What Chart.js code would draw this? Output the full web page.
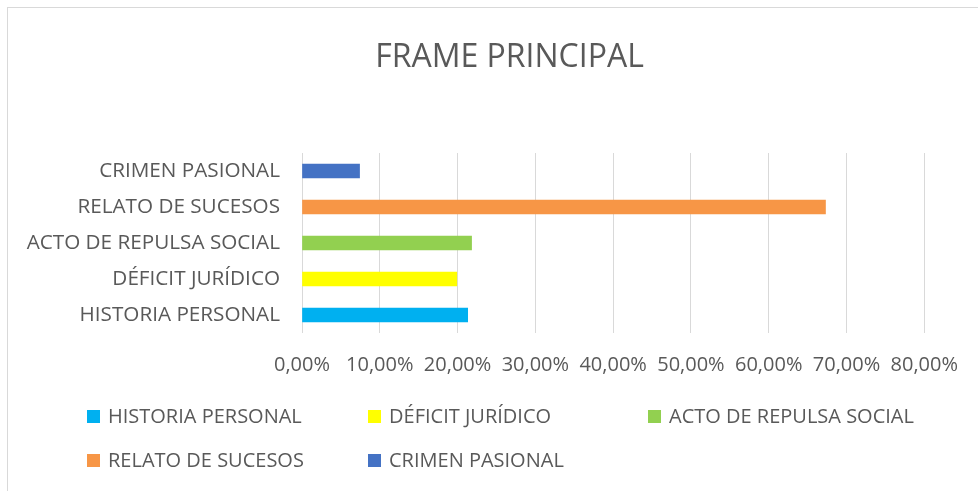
<!DOCTYPE html>
<html><head><meta charset="utf-8">
<script src="https://cdn.jsdelivr.net/npm/chart.js@4.4.1/dist/chart.umd.min.js"></script>
<style>
html,body{margin:0;padding:0;background:#fff;}
#wrap{position:relative;width:978px;height:491px;overflow:hidden;font-family:"Open Sans",sans-serif;color:#595959;}
#frame{position:absolute;left:7px;top:7px;width:1000px;height:1000px;border:1px solid #d9d9d9;box-sizing:border-box;}
#title{position:absolute;left:0;width:1019px;top:37px;text-align:center;font-size:32px;line-height:36px;}
canvas{position:absolute;left:0;top:0;}
#legend{position:absolute;left:87px;top:404px;display:grid;grid-template-columns:281px 280px 300px;row-gap:20px;font-size:20px;line-height:24px;}
.item{display:flex;align-items:center;white-space:nowrap;}
.box{width:13px;height:13px;margin-right:8px;flex:none;}
</style>
</head><body>
<div id="wrap">
<div id="frame"></div>
<canvas id="c" width="978" height="491"></canvas>
<div id="title"></div>
<div id="legend"></div>
</div>
<script>
const chartTitle = 'FRAME PRINCIPAL';
const categories = ['HISTORIA PERSONAL','DÉFICIT JURÍDICO','ACTO DE REPULSA SOCIAL','RELATO DE SUCESOS','CRIMEN PASIONAL'];
const values = [0.213, 0.199, 0.218, 0.673, 0.074];
const colors = ['#00B0F0','#FFFF00','#92D050','#F79646','#4472C4'];
const xTickLabels = ['0,00%','10,00%','20,00%','30,00%','40,00%','50,00%','60,00%','70,00%','80,00%'];

document.getElementById('title').textContent = chartTitle;

const datasets = categories.map((c, i) => ({
  label: c,
  data: categories.map((_, j) => j === i ? values[i] : null),
  backgroundColor: colors[i],
  barThickness: 14
}));

const FONT = '"Open Sans", sans-serif';

new Chart(document.getElementById('c'), {
  type: 'bar',
  data: { labels: categories, datasets },
  options: {
    indexAxis: 'y',
    responsive: false,
    animation: false,
    layout: { padding: { left: 0, right: 46, top: 153, bottom: 94 } },
    plugins: { legend: { display: false }, title: { display: false }, tooltip: { enabled: false } },
    scales: {
      x: {
        stacked: true,
        min: 0, max: 0.8,
        ticks: { stepSize: 0.1, callback: (v, i) => xTickLabels[i], color: '#595959',
                 font: { family: FONT, size: 20 }, padding: 20, maxRotation: 0 },
        grid: { color: '#d9d9d9', lineWidth: 1, drawTicks: false },
        border: { display: false }
      },
      y: {
        stacked: true,
        reverse: true,
        ticks: { color: '#595959', font: { family: FONT, size: 20.7 }, padding: 22 },
        grid: { display: false, drawTicks: false },
        border: { display: false },
        afterFit: s => { s.width = 302; }
      }
    }
  }
});

const leg = document.getElementById('legend');
categories.forEach((c, i) => {
  const it = document.createElement('div'); it.className = 'item';
  const b = document.createElement('span'); b.className = 'box'; b.style.background = colors[i];
  const t = document.createElement('span'); t.textContent = c;
  it.appendChild(b); it.appendChild(t); leg.appendChild(it);
});
</script>
</body></html>
